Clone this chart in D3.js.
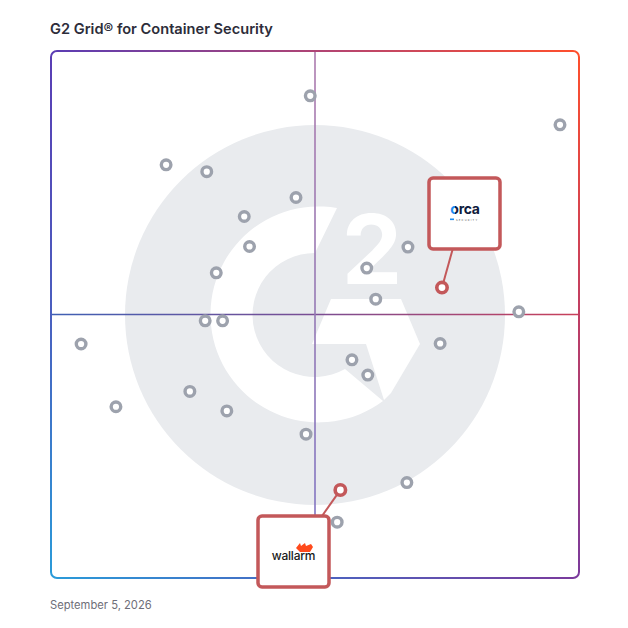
<!DOCTYPE html>
<html><head><meta charset="utf-8">
<script src="https://cdn.jsdelivr.net/npm/d3@7"></script>
<style>body{margin:0;background:#fff;}svg{display:block;font-family:Inter,"Noto Sans",sans-serif;}</style>
</head><body>
<script>
// Data: Market Presence (x, 0-100) and Satisfaction (y, 0-100)
const marketPresence = [49.1, 96.4, 21.8, 29.5, 46.4, 36.6, 37.6, 67.6, 59.8, 61.5, 31.3, 88.6, 29.2, 32.5, 5.7, 73.7, 57.0, 60.0, 26.3, 12.3, 33.3, 48.3, 67.4, 54.2];
const satisfaction   = [91.5, 86.0, 78.4, 77.1, 72.2, 68.6, 62.9, 62.8, 58.8, 52.9, 57.9, 50.5, 48.8, 48.8, 44.4, 44.5, 41.4, 38.5, 35.4, 32.5, 31.7, 27.3, 18.1, 10.6];
const featuredNames = ["orca", "wallarm"];
const featuredX = [74.05, 54.8];
const featuredY = [55.1, 16.7];
const titleText = "G2 Grid\u00ae for Container Security";
const dateText = "September 5, 2026";

const W = 628, H = 628;
const L = 51, R = 579, T = 51, B = 578;
const svg = d3.select("body").append("svg").attr("width", W).attr("height", H);
const x = d3.scaleLinear().domain([0, 100]).range([L, R]);
const y = d3.scaleLinear().domain([0, 100]).range([B, T]);
const defs = svg.append("defs");

function grad(id, x1, y1, x2, y2, stops) {
  const g = defs.append("linearGradient").attr("id", id).attr("gradientUnits", "userSpaceOnUse")
    .attr("x1", x1).attr("y1", y1).attr("x2", x2).attr("y2", y2);
  stops.forEach(s => g.append("stop").attr("offset", s[0]).attr("stop-color", s[1]));
}
const cTL = "#5a3db4", cTR = "#ff4f2c", cBL = "#2a9bd9", cBR = "#7b3a9c";
grad("gTop", L, T, R, T, [[0, cTL], [0.55, "#b8456e"], [1, cTR]]);
grad("gRight", R, T, R, B, [[0, cTR], [0.5, "#c03e63"], [1, cBR]]);
grad("gBottom", L, B, R, B, [[0, cBL], [0.5, "#4a64c0"], [1, cBR]]);
grad("gLeft", L, T, L, B, [[0, cTL], [0.5, "#4a5fbf"], [1, cBL]]);
grad("gH", L, 0, R, 0, [[0, "#3f60b4"], [0.5, "#7a4d93"], [1, "#c9405a"]]);
grad("gV", 0, T, 0, B, [[0, "#ad7bae"], [0.5, "#9478b4"], [1, "#7c73c6"]]);

// Title
svg.append("text").attr("x", 50).attr("y", 34).attr("font-size", 14.6).attr("font-weight", 600)
  .attr("fill", "#2d2d3a").text(titleText);

// Watermark G2 logo
const cx = x(50), cy = (y(50) + 0.5);
const wm = svg.append("g");
wm.append("circle").attr("cx", cx).attr("cy", cy).attr("r", 190).attr("fill", "#e9ebee");
const ro = 108, ri = 62;
wm.append("path").attr("fill", "#fff")
  .attr("d", `M${cx+22},${cy-107} A${ro},${ro} 0 1 0 ${cx+68},${cy+86} L${cx+30},${cy+54} A${ri},${ri} 0 1 1 ${cx},${cy-ri} Z`);
wm.append("path").attr("fill", "#fff")
  .attr("d", `M${cx+16},${cy-16} L${cx+86},${cy-16} L${cx+105},${cy+29} L${cx+76},${cy+78} L${cx+69},${cy+85} L${cx+51},${cy+29} L${cx-3},${cy+29} Z`);
wm.append("text").attr("x", cx + 57).attr("y", cy - 31).attr("text-anchor", "middle")
  .attr("font-size", 96).attr("font-weight", 700).attr("fill", "#fff").text("2");

// Quadrant lines
svg.append("line").attr("x1", L).attr("x2", R).attr("y1", y(50)).attr("y2", y(50))
  .attr("stroke", "url(#gH)").attr("stroke-width", 1.6);
svg.append("line").attr("x1", x(50)).attr("x2", x(50)).attr("y1", T).attr("y2", B)
  .attr("stroke", "url(#gV)").attr("stroke-width", 1.6);

// Border
const r = 6, bw = 2;
svg.append("path").attr("fill", "none").attr("stroke", "url(#gTop)").attr("stroke-width", bw)
  .attr("d", `M${L},${T+r} A${r},${r} 0 0 1 ${L+r},${T} L${R-r},${T} A${r},${r} 0 0 1 ${R},${T+r}`);
svg.append("path").attr("fill", "none").attr("stroke", "url(#gRight)").attr("stroke-width", bw)
  .attr("d", `M${R},${T+r} L${R},${B-r}`);
svg.append("path").attr("fill", "none").attr("stroke", "url(#gBottom)").attr("stroke-width", bw)
  .attr("d", `M${L},${B-r} A${r},${r} 0 0 0 ${L+r},${B} L${R-r},${B} A${r},${r} 0 0 0 ${R},${B-r}`);
svg.append("path").attr("fill", "none").attr("stroke", "url(#gLeft)").attr("stroke-width", bw)
  .attr("d", `M${L},${T+r} L${L},${B-r}`);

// Product dots
const pts = marketPresence.map((v, i) => ({ mx: v, sy: satisfaction[i] }));
svg.append("g").selectAll("circle").data(pts).join("circle")
  .attr("cx", d => x(d.mx)).attr("cy", d => y(d.sy)).attr("r", 4.8)
  .attr("fill", "#fff").attr("stroke", "#9da2ad").attr("stroke-width", 3.4);

// Featured callouts
const red = "#c3585a";
const boxes = [
  { bx: 429, by: 178, lx: 453, ly: 248 },
  { bx: 258, by: 516, lx: 322, ly: 516 }
];
featuredNames.forEach((name, i) => {
  const px = x(featuredX[i]), py = y(featuredY[i]);
  const b = boxes[i];
  const ang = Math.atan2(b.ly - py, b.lx - px);
  svg.append("line").attr("x1", b.lx).attr("y1", b.ly)
    .attr("x2", px + Math.cos(ang) * 6).attr("y2", py + Math.sin(ang) * 6)
    .attr("stroke", red).attr("stroke-width", 2);
  svg.append("rect").attr("x", b.bx).attr("y", b.by).attr("width", 71).attr("height", 71)
    .attr("rx", 4).attr("fill", "#fff").attr("stroke", red).attr("stroke-width", 3.5);
  svg.append("circle").attr("cx", px).attr("cy", py).attr("r", 5.2)
    .attr("fill", "#fff").attr("stroke", red).attr("stroke-width", 3.6);
});

// Orca logo
grad("gOrcaO", 450, 0, 462, 0, [[0, "#1d8cf0"], [0.4, "#1d8cf0"], [0.4, "#0f1b3d"], [1, "#0f1b3d"]]);
const og = svg.append("g");
const ot = og.append("text").attr("x", 465).attr("y", 214).attr("text-anchor", "middle")
  .attr("font-size", 14).attr("font-weight", 700).attr("fill", "#0f1b3d").attr("letter-spacing", -0.3);
ot.append("tspan").attr("fill", "url(#gOrcaO)").text("o");
ot.append("tspan").text("rca");
og.append("rect").attr("x", 450).attr("y", 218.5).attr("width", 4).attr("height", 1.6).attr("fill", "#1d8cf0");
og.append("text").attr("x", 456).attr("y", 220.6).attr("font-size", 2.6).attr("fill", "#555")
  .attr("letter-spacing", 1.2).text("SECURITY");

// Wallarm logo
const wg = svg.append("g");
wg.append("path").attr("fill", "#ff4a1c")
  .attr("d", "M296,548 L300,543 L301,546 L305,543 L306,546 L311,544 L313,547 L310,552 L300,552 Z");
wg.append("text").attr("x", 293.5).attr("y", 560).attr("text-anchor", "middle")
  .attr("font-size", 12).attr("font-weight", 500).attr("fill", "#1a1a1a").attr("letter-spacing", -0.2).text("wallarm");

// Date
svg.append("text").attr("x", 50).attr("y", 609).attr("font-size", 11.2).attr("fill", "#6e6e78").text(dateText);
</script>
</body></html>
